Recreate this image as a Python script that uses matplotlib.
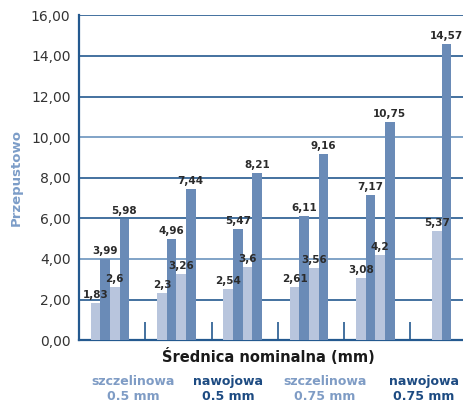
import matplotlib
matplotlib.use("Agg")
import matplotlib.pyplot as plt
import numpy as np

groups = [1, 2, 3, 4, 5, 6]
szczel_05 = [1.83, 2.3, 2.54, 2.61, 3.08, None]
nawoj_05 = [3.99, 4.96, 5.47, 6.11, 7.17, None]
szczel_075 = [2.6, 3.26, 3.6, 3.56, 4.2, 5.37]
nawoj_075 = [5.98, 7.44, 8.21, 9.16, 10.75, 14.57]
series = [szczel_05, nawoj_05, szczel_075, nawoj_075]
labels = [["1,83", "2,3", "2,54", "2,61", "3,08", None],
          ["3,99", "4,96", "5,47", "6,11", "7,17", None],
          ["2,6", "3,26", "3,6", "3,56", "4,2", "5,37"],
          ["5,98", "7,44", "8,21", "9,16", "10,75", "14,57"]]
yticks = [0, 2, 4, 6, 8, 10, 12, 14, 16]
ytick_labels = ["0,00", "2,00", "4,00", "6,00", "8,00", "10,00", "12,00", "14,00", "16,00"]
legend_names = ["szczelinowa\n0.5 mm", "nawojowa\n0.5 mm", "szczelinowa\n0.75 mm", "nawojowa\n0.75 mm"]

light = "#b8c5dd"
blue = "#6a8bb7"
colors = [light, blue, light, blue]
legend_colors = ["#7f9cc5", "#1d4b82", "#7f9cc5", "#1d4b82"]
navy = "#24598f"
plt.rcParams['font.family'] = ["DejaVu Sans"]

fig = plt.figure(figsize=(4.64, 4.04), dpi=100)
ax = fig.add_axes([0.170, 0.158, 0.830, 0.804])

w = 0.145
for gi, g in enumerate(groups):
    present = [si for si in range(4) if series[si][gi] is not None]
    n = len(present)
    for k, si in enumerate(present):
        x = g + (k - (n - 1) / 2) * w - 0.03
        v = series[si][gi]
        ax.bar(x, v, width=w, color=colors[si], zorder=3, linewidth=0)
        ax.text(x, v + 0.15, labels[si][gi], ha="center", va="bottom",
                fontsize=7.5, fontweight="bold", color="#2b2b2b", zorder=4)

for y in yticks[1:]:
    c = "#6b93bd" if y in (4, 10) else navy
    ax.axhline(y, color=c, lw=1.2, zorder=1)

ax.set_xlim(0.5, 6.307)
ax.set_ylim(0, 16)
ax.set_yticks(yticks)
ax.set_yticklabels(ytick_labels, fontsize=10, color="#333333")
ax.tick_params(axis="y", length=0, pad=6)
ax.set_xticks([1.5, 2.5, 3.5, 4.5, 5.5])
ax.set_xticklabels([])
ax.tick_params(axis="x", direction="in", length=13, width=1.2, color=navy)
for s in ["top", "right"]:
    ax.spines[s].set_visible(False)
for s in ["left", "bottom"]:
    ax.spines[s].set_color(navy)
    ax.spines[s].set_linewidth(1.6)

ax.set_ylabel("Przepustowo", fontsize=9.5, fontweight="bold", color="#7c9dc8", labelpad=6)

fig.text(268 / 464, 1 - 357 / 404, "Średnica nominalna (mm)", ha="center", va="center",
         fontsize=10.5, fontweight="bold", color="#1a1a1a")
for xc, name, col in zip([133, 228, 325, 424], legend_names, legend_colors):
    fig.text(xc / 464, 1 - 389 / 404, name, ha="center", va="center",
             fontsize=9, fontweight="bold", color=col, linespacing=1.15)

fig.savefig("out.png", dpi=100)
